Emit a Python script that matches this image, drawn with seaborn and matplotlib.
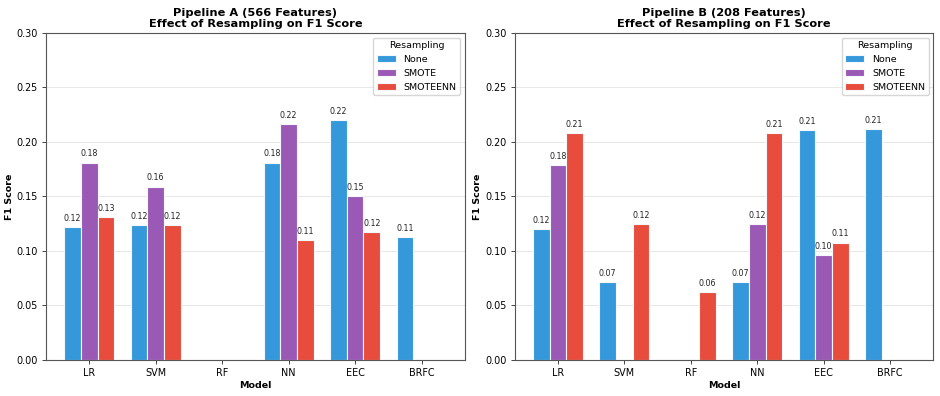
import numpy as np
import pandas as pd
import matplotlib
matplotlib.use("Agg")
import matplotlib.pyplot as plt
from matplotlib.ticker import FormatStrFormatter
import seaborn as sns

models = ["LR", "SVM", "RF", "NN", "EEC", "BRFC"]
methods = ["None", "SMOTE", "SMOTEENN"]
colors = ["#3498db", "#9b59b6", "#e74c3c"]

nan = np.nan
a_none = [0.122, 0.124, nan, 0.181, 0.220, 0.113]
a_smote = [0.181, 0.159, nan, 0.216, 0.150, nan]
a_smoteenn = [0.131, 0.124, nan, 0.110, 0.117, nan]

b_none = [0.120, 0.0715, nan, 0.0715, 0.211, 0.212]
b_smote = [0.179, nan, nan, 0.1247, 0.096, nan]
b_smoteenn = [0.208, 0.1247, 0.062, 0.208, 0.1076, nan]

titles = ["Pipeline A (566 Features)\nEffect of Resampling on F1 Score",
          "Pipeline B (208 Features)\nEffect of Resampling on F1 Score"]


def long_df(none, smote, smoteenn):
    rows = []
    for vals, m in zip([none, smote, smoteenn], methods):
        for mod, v in zip(models, vals):
            rows.append({"Model": mod, "Resampling": m, "F1": v})
    return pd.DataFrame(rows).dropna()


dfs = [long_df(a_none, a_smote, a_smoteenn), long_df(b_none, b_smote, b_smoteenn)]

fig, axes = plt.subplots(1, 2, figsize=(9.4, 3.96), dpi=100)
fig.subplots_adjust(left=0.049, right=0.993, top=0.917, bottom=0.091, wspace=0.119)

for ax, df, title in zip(axes, dfs, titles):
    sns.barplot(data=df, x="Model", y="F1", hue="Resampling", order=models,
                hue_order=methods, palette=colors, errorbar=None, ax=ax,
                width=0.75, edgecolor="#f4f8fc", linewidth=0.8, alpha=1.0,
                saturation=1)
    for cont in ax.containers:
        labels = [f"{b.get_height():.2f}" if np.isfinite(b.get_height()) and b.get_height() > 0 else ""
                  for b in cont]
        ax.bar_label(cont, labels=labels, padding=3, fontsize=5.7, color="#222222")
    ax.set_xlim(-0.65, 5.65)
    ax.set_ylim(0, 0.30)
    ax.yaxis.set_major_formatter(FormatStrFormatter("%.2f"))
    ax.set_title(title, fontsize=8.2, fontweight="bold", pad=4, linespacing=1.2)
    ax.set_xlabel("Model", fontsize=6.8, fontweight="bold", labelpad=2)
    ax.set_ylabel("F1 Score", fontsize=6.8, fontweight="bold", labelpad=2)
    ax.tick_params(labelsize=6.9, length=3, width=0.7, color="#444444", pad=3)
    ax.grid(axis="y", alpha=0.3, linewidth=0.7)
    ax.set_axisbelow(True)
    for s in ax.spines.values():
        s.set_color("#555555")
        s.set_linewidth(0.8)
    leg = ax.legend(title="Resampling", loc="upper right", fontsize=6.8,
                    title_fontsize=6.8)

fig.savefig("out.png", dpi=100)
